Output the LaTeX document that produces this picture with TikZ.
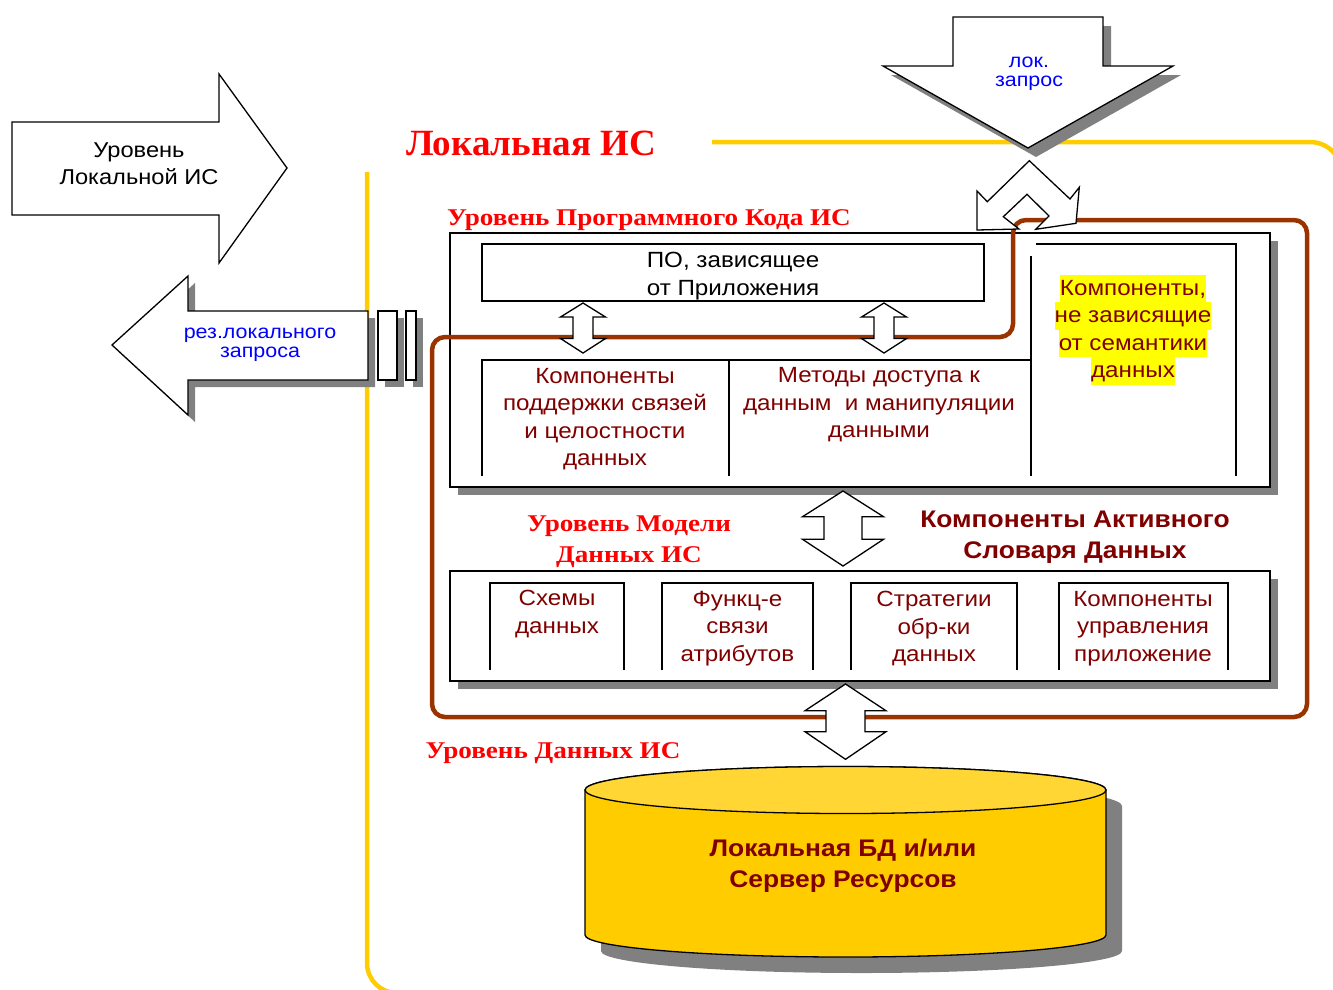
\documentclass[tikz,border=0pt]{standalone}
\usepackage{fontspec}
\setmainfont{Liberation Sans}[FakeStretch=1.1]
\newfontfamily\headfont{Liberation Serif}[FakeStretch=1.13]
\newfontfamily\titlefont{Liberation Serif}

\definecolor{frameyellow}{HTML}{FFCC00}
\definecolor{loopbrown}{HTML}{993300}
\definecolor{darkred}{HTML}{800000}
\definecolor{shadowgray}{HTML}{808080}
\definecolor{headred}{HTML}{FF0000}
\definecolor{reqblue}{HTML}{0000FF}
\definecolor{dbfill}{HTML}{FFCC00}
\definecolor{dbtop}{HTML}{FFD633}
\definecolor{hlyellow}{HTML}{FFFF00}

% vertical two-headed block arrow: x, y top, head half width, shaft half width, y head 1, y head 2, y bottom
\newcommand\vdarrow[7]{%
  \filldraw[blockarrow] (#1,#2) -- ({#1+#3},#5) -- ({#1+#4},#5) -- ({#1+#4},#6) -- ({#1+#3},#6)
    -- (#1,#7) -- ({#1-#3},#6) -- ({#1-#4},#6) -- ({#1-#4},#5) -- ({#1-#3},#5) -- cycle;}
\newcommand\hlline[1]{\colorbox{hlyellow}{\rule[-7pt]{0pt}{27.5pt}#1}}

\tikzset{
  blockarrow/.style={draw=black, fill=white, line width=1.3pt, line join=miter},
  boxline/.style={draw=black, line width=1.8pt},
  body/.style={font=\fontsize{22}{27.5}\selectfont, align=center, inner sep=0pt, text=darkred},
  plain/.style={body, text=black},
  blue/.style={font=\fontsize{19.5}{19}\selectfont, align=center, inner sep=0pt, text=reqblue},
  heading/.style={font=\headfont\bfseries\fontsize{24}{31}\selectfont, align=center, inner sep=0pt, text=headred},
  boldlabel/.style={font=\bfseries\fontsize{24}{31}\selectfont, align=center, inner sep=0pt, text=darkred},
}

\begin{document}
\begin{tikzpicture}[x=1pt, y=-1pt]
\useasboundingbox (0,0) rectangle (1333,989);
\clip (0,0) rectangle (1333,989);

% outer frame of the local IS
\draw[frameyellow, line width=4.5pt, rounded corners=30pt] (367,172) -- (367,993) -- (1345,993);
\draw[frameyellow, line width=4.5pt, rounded corners=32pt] (712,142) -- (1342,142) -- (1342,400);

% "Уровень Локальной ИС" arrow
\filldraw[blockarrow] (12,122) -- (219,122) -- (219,74) -- (287,168) -- (219,263) -- (219,215) -- (12,215) -- cycle;

% result arrow with shadow
\begin{scope}[shift={(7,7)}]
  \fill[shadowgray] (368,311) -- (188,311) -- (188,276) -- (112,345) -- (188,415) -- (188,380) -- (368,380) -- cycle;
  \fill[shadowgray] (378,311) rectangle (397,380);
  \fill[shadowgray] (406,311) rectangle (416,380);
\end{scope}
\filldraw[blockarrow] (368,311) -- (188,311) -- (188,276) -- (112,345) -- (188,415) -- (188,380) -- (368,380) -- cycle;
\filldraw[blockarrow] (378,311) rectangle (397,380);
\filldraw[blockarrow] (406,311) rectangle (416,380);

% request arrow with shadow
\fill[shadowgray, shift={(8,9)}] (953,17) -- (1103,17) -- (1103,66) -- (1173,66) -- (1028,148) -- (883,66) -- (953,66) -- cycle;
\filldraw[blockarrow] (953,17) -- (1103,17) -- (1103,66) -- (1173,66) -- (1028,148) -- (883,66) -- (953,66) -- cycle;

% program code level box
\fill[shadowgray] (458,241) rectangle (1278,495);
\filldraw[boxline, fill=white] (450,233) rectangle (1270,487);
\draw[boxline] (482,244) rectangle (984,301);
\draw[boxline] (482,476) -- (482,360) -- (1031,360);
\draw[boxline] (729,360) -- (729,476);
\draw[boxline] (1031,256) -- (1031,476);
\draw[boxline] (1036,244) -- (1236,244) -- (1236,476);

% data model level box
\fill[shadowgray] (458,579) rectangle (1278,689);
\filldraw[boxline, fill=white] (450,571) rectangle (1270,681);
\draw[boxline] (490,670) -- (490,583) -- (624,583) -- (624,670);
\draw[boxline] (662,670) -- (662,583) -- (813,583) -- (813,670);
\draw[boxline] (851,670) -- (851,583) -- (1017,583) -- (1017,670);
\draw[boxline] (1059,670) -- (1059,583) -- (1228,583) -- (1228,670);

% active data dictionary loop
\draw[loopbrown, line width=4.5pt, rounded corners=13pt]
  (1160,220) -- (1307,220) -- (1307,717) -- (432,717) -- (432,337) -- (1013,337) -- (1013,220) -- cycle;

% two-headed arrows between levels
\vdarrow{583}{303}{22.5}{10}{317}{338.5}{353}
\vdarrow{884}{303}{22.5}{10}{317}{338.5}{353}
\vdarrow{843}{491}{40.5}{19}{516.7}{539.3}{566}
\vdarrow{845.5}{684}{40.5}{19.5}{710.7}{731.7}{759.3}

% bent two-headed arrow under the request
\filldraw[blockarrow] (1029.3,160.7) -- (1070,199) -- (1079.3,187.3) -- (1076,223.3) -- (1035.7,229.3)
  -- (1049,216) -- (1027,194.3) -- (1003.3,216.7) -- (1019,229) -- (977,230) -- (977,191) -- (987.3,201.7) -- cycle;

% local database cylinder
\begin{scope}[shift={(16,16)}]
  \fill[shadowgray] (585,790) -- (585,935) arc[start angle=180, end angle=360, x radius=260.5pt, y radius=22pt]
    -- (1106,790) arc[start angle=0, end angle=180, x radius=260.5pt, y radius=23.5pt] -- cycle;
\end{scope}
\filldraw[draw=black, line width=1.3pt, fill=dbfill] (585,790) -- (585,935) arc[start angle=180, end angle=360, x radius=260.5pt, y radius=22pt]
    -- (1106,790) arc[start angle=0, end angle=180, x radius=260.5pt, y radius=23.5pt] -- cycle;
\filldraw[draw=black, line width=1.3pt, fill=dbtop] (845.5,790) ellipse [x radius=260.5pt, y radius=23.5pt];

% labels
\node[plain, font=\fontsize{21.5}{27}\selectfont] (lvl) at (139,163.5) {Уровень\\Локальной ИС};
\node[blue] (res) at (260,345) {рез.локального\\запроса};
\node[blue] (req) at (1029,74) {лок.\\запрос};
\node[heading, font=\titlefont\bfseries\fontsize{37}{40}\selectfont] (localis) at (531,143) {Локальная ИС};
\node[heading] (codelvl) at (649,220) {Уровень Программного Кода ИС};
\node[plain] (po) at (733,276) {ПО, зависящее\\от Приложения};
\node[body, font=\fontsize{22}{27.5}\selectfont\setlength{\fboxsep}{0pt}] (indep) at (1133,329.5)
  {\hlline{Компоненты,}\\\hlline{не зависящие}\\\hlline{от семантики}\\\hlline{данных}};
\node[body] (links) at (605,419) {Компоненты\\поддержки связей\\и целостности\\данных};
\node[body] (methods) at (879,405) {Методы доступа к\\данным\ \ и манипуляции\\данными};
\node[heading] (modellvl) at (629,541.5) {Уровень Модели\\Данных ИС};
\node[boldlabel] (dict) at (1075,537) {Компоненты Активного\\Словаря Данных};
\node[body] (schema) at (557,614) {Схемы\\данных};
\node[body] (func) at (737.5,628.5) {Функц-е\\связи\\атрибутов};
\node[body] (strat) at (934,628.5) {Стратегии\\обр-ки\\данных};
\node[body] (ctrl) at (1143,628.5) {Компоненты\\управления\\приложение};
\node[heading] (datalvl) at (553,753) {Уровень Данных ИС};
\node[boldlabel] (db) at (843,866) {Локальная БД и/или\\Сервер Ресурсов};
\end{tikzpicture}
\end{document}
